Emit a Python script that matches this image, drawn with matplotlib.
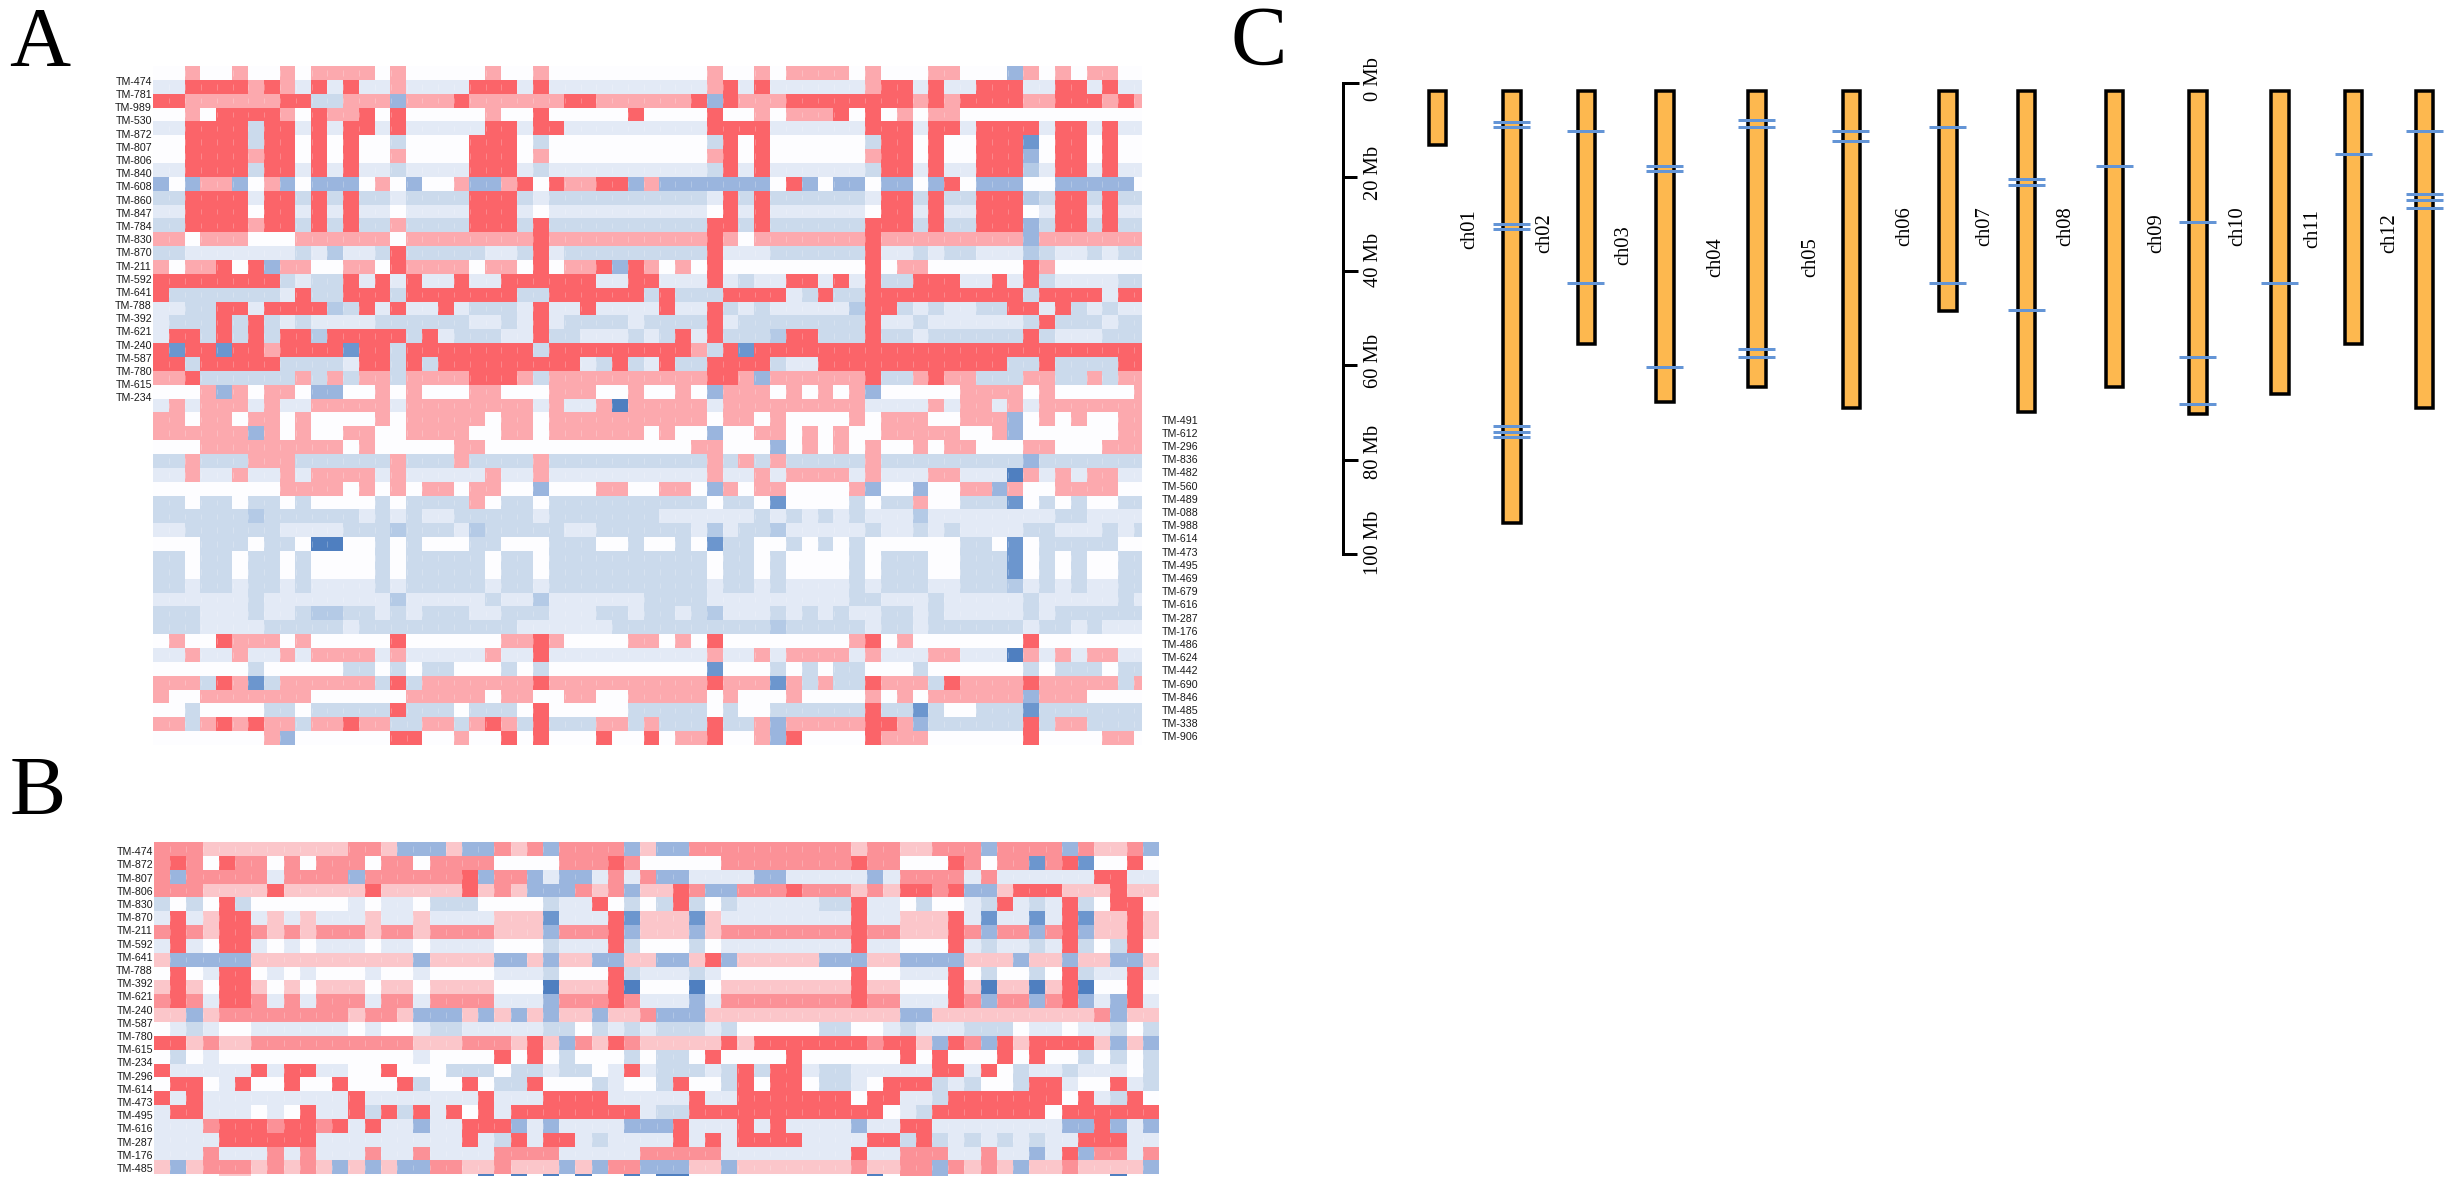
import re
import numpy as np
import matplotlib
matplotlib.use("Agg")
import matplotlib.pyplot as plt
from matplotlib.colors import ListedColormap, BoundaryNorm

W, H = 2452, 1184
plt.rcParams["font.family"] = ["Liberation Sans", "DejaVu Sans"]

# Cell codes: . white; a b B c d e = increasingly dark blue; s p q r = increasingly strong red.
# Each row is run-length coded, e.g. "2a4r" = a a r r r r.
HEAT_A = [
 "2. p 2. p 2. p . 4p . p 5. p 2. p 10. p 2. p . 4p . p 3. 2p 3. c p . p . 2p 2.",
 "2a 4r p r p a r a r 2a p 4a 3r a r 10a p r a r 6a p 2r a r 2a 3r 2a 2r a r 2a",
 "2r 6p 2r 2b 3p c 3p r 6p 2r 6p r c r 3p 8r p r p 4r 2p 3r p r p",
 "2. p . 4r p . r 2p r . r 5. p 2. r 5. r 4. r 2. p . 3p r . r . p . 2p 12.",
 "2a 4r b 2r a r a 2r a r 5a 2r a 2r 9a 4r 6a 3r a 2r a 4r a 2r a r 2a",
 "2. 4r b 2r . r . r 2. b 4. 3r . b 10. b r . r 6. b 2r . r 2. 3r d . 2r . r 2.",
 "2. 4r p 2r . r . r 2. p 4. 3r . p 10. p r . r 6. p 2r . r 2. 3r c . 2r . r 2.",
 "2a 4r b 2r a r a r 2a b 4a 3r a b 10a b r a r 6a b 2r a r 2a 3r B a 2r a r 2a",
 "c . c 2p c . p c . 3c . p . c 2. p 2c p r . r 2p 2r c p 7c . r c . 2c . 2c . c r . 3c 2. 5c .",
 "2b 4r a 2r b r b r 2b a 4b 3r b a 10b a r b r 6b a 2r b r 2b 3r B b 2r b r 2b",
 "2a 4r . 2r a r a r 2a . 4a 3r a . 10a . r a r 6a . 2r a r 2a 3r . a 2r a r 2a",
 "2b 4r p 2r b r b r 2b p 4b 3r b r 10b 2r b r 6b r 2r b r 2b 3r c b 2r b r 2b",
 "2p . 3p 3. 6p . 8p r 10p r p . 7p r 9p c 7p",
 "2b 7a b a B 2a b r 5b 2a b r a 9b r 3a 6b r 2a b a 2b 3a B b 2a b a 2b",
 "p . 2p r . r c 2p 2. 2p . r 4p . 2p . r . 2p r c r p . p . r 9. r . 2p 6. r p 6.",
 "8r b a 2b r a r a r 2a r 2a 6r 2a 2r 3a r a b 2a 2r a r a r 2b 3r 2a r a r b 4a 2b",
 "r 7b a r 2b 3r b 7r 2b 6r b r 3b 4r a b r 2b 10r b 4r a 2r",
 "2a 2b 2r a 4r B b r a r 2a r a 3b a r 2a r 4a r 2a r b a b 5a B 2r b a b 2a 2b 2r a r b a b 2a",
 "a 3b r b r b a b 4a 6b 2a b a r a 4b a 2b 2b r a 8b r 2a b 6a b r 3b a 2b",
 "a 2r b r b r b 2r B 5r b r a 3b 2a r 2b 3a b a b r a r 3b B 2r 3b r 2b a 6b r b 3a 3b",
 "r d 2r d 2r p 4r d 2r b 8r b 9r p b r d 25r",
 "2r b 5r 4b a 2r b r b 9r a b r b a r 2b 4r b 2a 12r 2b r 4b 2r",
 "2p r 6b p b p b 2p b 4p 3r p b 10p 2r p c 6p r 2b p r 2p 3b 2p 2b p b 2p",
 "3. p c p . 2p . 2c 2. p . p 3. 2p 3. 3p 2. p 2. p . c 3p . p . p . p c 5. 4p . p 5. p",
 "a p a 3p a p 2a 5p a 8p a p 2a p e 5p a 9p 4a p a 2p a p a 7p",
 "2p . 2p . 2p . p 4. p . 5p . 2p . 10p . 2p . p 4. p . 3p 2. 3p c . p . p 2. 2p",
 "6p c p . p 2. 2p 2. 4p 2. 2p . 6p . p 2. c 2. 2p . p . p 2. 5p 2. p c 6. 2p",
 "3. 9p . p 5. 2p 13. 2p 3. c . p . p . p 2. p . 2p 3. 2p 3. 3p",
 "2b p 3b 3p 6b p 3b p 4b p 10b p b p b p 5b p 9b c 7b",
 "2a p 2a p 2a p a 4p a p 5a p 2a p 10a p 2a p a 4p a p 3a 2p 3a e p a p a 2p 2a",
 "8. 4p . p . p . 2p . 2p 2. c 3. 2p 2. 2p . c p . 2p 4. p c 2. c 2. 2p c p 2. 4p 2.",
 "2b . 2b . 2b . b 4. b . 4b p . 2b . 10b . 2b . d 4. b . 2b p 2. 3b d . b . b 2. 2b",
 "6b B 6b a b a b 2a 5b a 7b 6a b a b a b a b 3a B 8a 2b 4a",
 "2a 6b 4a 3b B 3b a B 5b 2a 6b a B a 2b B 5a b 2a b a b 4a 2b 3a b a b",
 "3. 3b . 2b . 2e 2. b . b 3. 2b 3. 3b 2. b 2. b . d 2b 2. b . b . b 6. 2b . d . 5b 2.",
 "2b . 2b . 2b . b 4. b . 5b . 2b . 10b . 2b . b 4. b . 3b 2. 3b d . b . b 2. 2b",
 "2b . 2b . 2b . b 4. b . 5b . 2b . 10b . 2b . b 4. b . 3b 2. 3b d . b . b 2. 2b",
 "2b a 2b a 2b a b 4a b a 5b a 2b a 10b a 2b a b 4a b a 3b 2a 3b B a b a b 2a 2b",
 "6a b 8a B 5a b 2a B 6a 4b 9a 2b 3a b 5a b 5a b a",
 "3b 3a b 2a b 2B 2b a b a 3b 2a 3b 3a 2b a 2b a b B 3a b a b a b 2a 2b a b 5a b a 6b",
 "3b 4a 5b a 10b 6a 10b B 5b a 2b a 6b a 2b a b 3a",
 ". p 2. r 3p . p 5. r 6. 2p r p 4. 2p . p . r 8. p r . p 7. r 7.",
 "2a p 2a p 2a p a 4p a p 5a p 2a r 10a p 2a p a 4p a p 3a 2p 3a e p a p a 2p 2a",
 "6. b 5. 2b . b . 2b 3. b . b 10. d 3. b . b . 2b 3. b 6. b . 3b . 2b",
 "3p b r p d b 6p b r b 7p r 10p r 3p d p b p 2b r 3p b r 4p r 5p b p",
 "p 2. 7p 6. 5p . 2p 2. 2p 2. 5p . p 3. p 4. p . p . 6p c 3p 4.",
 "2. b 4. 2b . 5b r 3b . 3b . r 5. 5b . b 2. 6b r 2b d b 2. 3b d 7b",
 "2p b p r p r 2p b 2p r 2p 2b 2p b p r p b r 3b 2p b p 3b r 2b p c 5p 2r p c 6b r b 2p 4b",
 "7. p c 6. 2r 2. p 2. r . r 3. r 2. r . 2p r 2. p c r 4. r 3p 6. r 4. 2p .",
]

HEAT_B = [
 "3q 9s 2q s 3c s 2c q s q c 4q c s 2c 10q s 2q 2s 3q c 4q c q 2s q c",
 "q r q . r 2q . q . 3q . 2q . 4q 4. 3q r q 5. 8q r 2q 3. r q . 2q d q r d 2. r .",
 "q c 5q a 4q c 6q r c 2q c a 2c a q a q 2c 4a 2c 5a c a 4q a q 6a 2r 2a",
 "3q 4s r 5s r 5s r s q s 3c q s q c 2s r q 2c 3q r 3q s q s 2r q r 2c s 3r 3s r 2s",
 "b . b . r b 6. a . 2a . 3b 4. b 2a r . b . b r b . b 5a 2b r 2a . b 2. a b r a b a r b . 2r .",
 "a r a s 2r a s a s 3a s 2a s 4a 3s d 3a r d 3s d s 8a r 2a 3s r a d 2a d a r d 2s r s",
 "q r q s 2r q s q s 3q s 2q s 4q 3s c 3q r c 3s c s 8q r 2q 3s r q c 2q c q r c 2s r s",
 "a r a . 2r a . a . 3a . 2a . 4a 3. b 3a r b 3. b . 8a r 2a 3. r a b 2a b a r b . b r .",
 "s 5c 10s c 4s 2c s c 2s 2c 2s 2c s r c 5s 3c 2s 4c 3s c 2s c 2s 2c s",
 ". r . a 2r . a . a 3. a 2. a 4. 3a b 3. r b 3a b a 8. r 2. 3a r . b 2. b . r b 2a r a",
 "s r s . 2r s . s . 3s . 2s . 4s 3. e 3s r e 3. e . 8s r 2s 3. r s e 2s e s r e 2. r .",
 "q r q a 2r q a q a 3q a 2q a 4q 3a c 3q r q 3a c a 8q r 2q 3a r q c 2q c q r c a c r a",
 "2s c s 8q s 2q s 3c s c s c s c 2s c s s q 3c 12s 2c 10s q c 2s",
 ". a b a 2. 6a . a 2. a 2b 5a 2b . b a b a 3b a b 5. 2b 2. a b 3a 3b . 2a . 2a b . b",
 "2r s q 2s 10q 3s 3q s r s c q s r q 5s r s 7r q 2r s c r q c r s 4r s c s c",
 ". b . a 12. a 4. r . r . b 3. b . 2b . r 4. r 6. r . r 3. r . r 2. b . b . b",
 "r 5a r a 2r 2a 2. r 3. 3b . 2b a 2b . a r a 3b a b r b 2r a 2b 5a 2r a r . b 2a b 3a . b",
 ". 2r . a r 2. r 2. r 3. r b 2. r . 2b r 3. b a 2. b r 2. b r . 2r . 2b a . 3r b a b 2. b 2r a 2. r a b",
 "r a r 9a r 7a r 3a 4r 5a r 2a 7r . 2r 2a b 7r . r a b r .",
 "a 2r 3a . a . r 2a r b r b r a r . r a 8r a 2b 12r . a b 7r . 6r",
 "3a q 3r q 2r q r a r 2a c 2a 3r c a c 4a 3c r 3a r a r 4a c 2a 2r 8a 2c r c a c",
 "4a 6r 9a r a b r a 2r a b 4a r a r a 4r 4a 2r b r b a b a b a b 2a 3r 2a",
 "3a q 3a q a q 3a q 2a q 4a 4q 5a 5q 8a r 2a 3q 2a q 2a c a r c 2q a q",
 "s c s 3q s q s q s c s c s 2c 2q 2s q 3s c s c 2q 3c 2s c 7s q 2s 2q c q s q s c 2s q 4s c",
 "4. 2s 14. e . e . e . e 2. e . 2e 11. e . 2q c 10. e 2.",
]

LABELS_A_LEFT = ["TM-474","TM-781","TM-989","TM-530","TM-872","TM-807","TM-806","TM-840","TM-608",
                 "TM-860","TM-847","TM-784","TM-830","TM-870","TM-211","TM-592","TM-641","TM-788",
                 "TM-392","TM-621","TM-240","TM-587","TM-780","TM-615","TM-234"]
LABELS_A_RIGHT = ["TM-491","TM-612","TM-296","TM-836","TM-482","TM-560","TM-489","TM-088","TM-988",
                  "TM-614","TM-473","TM-495","TM-469","TM-679","TM-616","TM-287","TM-176","TM-486",
                  "TM-624","TM-442","TM-690","TM-846","TM-485","TM-338","TM-906"]
LABELS_B = ["TM-474","TM-872","TM-807","TM-806","TM-830","TM-870","TM-211","TM-592","TM-641",
            "TM-788","TM-392","TM-621","TM-240","TM-587","TM-780","TM-615","TM-234","TM-296",
            "TM-614","TM-473","TM-495","TM-616","TM-287","TM-176","TM-485"]

CHROM_NAMES = ["ch01","ch02","ch03","ch04","ch05","ch06","ch07","ch08","ch09","ch10","ch11","ch12"]
# start and end of each bar in Mb on the ruler
BAR_START = [1.8]*13
BAR_END = [13.2, 93.5, 55.4, 67.7, 64.7, 69.0, 48.4, 70.0, 64.7, 70.4, 66.0, 55.4, 69.0]
# marker loci in Mb, one list per bar
LOCI = [[], [8.3, 9.3, 30.1, 31.0, 72.8, 74.1, 75.3], [10.2, 42.6], [17.6, 18.7, 60.4],
        [8.0, 9.3, 56.6, 58.3], [10.2, 12.3], [9.3, 42.6], [20.4, 21.7, 48.3], [17.7],
        [29.5, 58.3, 68.2], [42.6], [15.2], [10.2, 23.7, 25.0, 26.5]]
RULER_TICKS = [0, 20, 40, 60, 80, 100]

CODES = ".abBcdespqr"
COLORS = ["#FDFDFF","#E3EAF6","#CBDAEC","#B4CAE6","#9AB5DE","#6C96CE","#4F7FC0",
          "#FBC6CA","#FCA9AE","#FB9197","#FB6469"]
cmap = ListedColormap(COLORS)
norm = BoundaryNorm(np.arange(len(COLORS) + 1) - 0.5, len(COLORS))


def decode(rows, ncol):
    out = []
    for row in rows:
        cells = []
        for n, ch in re.findall(r"(\d*)([.a-zA-Z])", row):
            cells += [CODES.index(ch)] * int(n or 1)
        cells = (cells + [0] * ncol)[:ncol]
        out.append(cells)
    return np.array(out)


fig = plt.figure(figsize=(W / 100, H / 100), dpi=100, facecolor="white")


def px_axes(l, t, r, b):
    ax = fig.add_axes([l / W, 1 - b / H, (r - l) / W, (b - t) / H])
    ax.axis("off")
    return ax


def ftext(x, y, s, **kw):
    fig.text(x / W, 1 - y / H, s, **kw)


def cell_dashes(ax, nrow, ncol):
    # faint light dashes on the column boundaries of each row
    for i in range(nrow):
        ax.vlines(np.arange(1, ncol), i + 0.3, i + 0.7, color="white", alpha=0.28, lw=0.6)


# Panel A
axA = px_axes(153.5, 66, 1142, 745)
matA = decode(HEAT_A, 63)
axA.imshow(matA, cmap=cmap, norm=norm, aspect="auto", interpolation="nearest",
           extent=(0, 63, matA.shape[0], 0))
cell_dashes(axA, matA.shape[0], 63)
axA.set_xlim(0, 62.5)
axA.set_ylim(matA.shape[0], 0)

# Panel B
axB = px_axes(154, 842, 1159, 1176)
matB = decode(HEAT_B, 62)
axB.imshow(matB, cmap=cmap, norm=norm, aspect="auto", interpolation="nearest",
           extent=(0, 62, matB.shape[0], 0))
cell_dashes(axB, 24, 62)
axB.set_xlim(0, 62)
axB.set_ylim(24.12, 0)

lab = dict(fontsize=7.7, color="#1a1a1a", va="center", family="Liberation Sans")
for i, s in enumerate(LABELS_A_LEFT):
    ftext(152, 81.7 + 13.2 * i, s, ha="right", **lab)
for i, s in enumerate(LABELS_A_RIGHT):
    ftext(1161.5, 420.7 + 13.2 * i, s, ha="left", **lab)
for i, s in enumerate(LABELS_B):
    ftext(153, 852.3 + 13.2 * i, s, ha="right", **lab)

serif = dict(family="Liberation Serif", color="black")
ftext(9.5, 65.7, "A", fontsize=60.8, ha="left", va="baseline", **serif)
ftext(9.5, 815.5, "B", fontsize=60.8, ha="left", va="baseline", **serif)
ftext(1230, 65, "C", fontsize=60.8, ha="left", va="baseline", **serif)

# Panel C: x in figure pixels, y in Mb
Y0, PX_PER_MB = 82.7, 4.71
axC = fig.add_axes([0, 0, 1, 1])
axC.axis("off")
axC.patch.set_alpha(0)
axC.set_xlim(0, W)
axC.set_ylim((H - Y0) / PX_PER_MB, -Y0 / PX_PER_MB)

PT = 0.72  # points per pixel at 100 dpi
BAR_X = [1437.5, 1512.2, 1586.3, 1665.2, 1757.1, 1851.4, 1947.9, 2026.5, 2114.5, 2197.9, 2280, 2353.6, 2424.5]
BAR_W = 17.5
BLUE = "#6495D6"
for x, s, e, loci in zip(BAR_X, BAR_START, BAR_END, LOCI):
    axC.bar(x, e - s, bottom=s, width=BAR_W, color="#FDB84F", edgecolor="black",
            linewidth=3.5 * PT, zorder=2)
    for m in loci:
        axC.plot([x - 19, x + 18], [m, m], color=BLUE, lw=3.0 * PT, zorder=3,
                 solid_capstyle="butt")

LABEL_X = [1470, 1545, 1624, 1716, 1811, 1905, 1985, 2066, 2157, 2238, 2313, 2390]
LABEL_Y = [229, 233, 245, 257, 257, 226, 226, 226, 233, 226, 229, 233]
for x, y, s in zip(LABEL_X, LABEL_Y, CHROM_NAMES):
    axC.text(x, (y - Y0) / PX_PER_MB, s, rotation=90, ha="center", va="center",
             fontsize=14.8, **serif)

RX = 1343
axC.plot([RX, RX], [0, 100], color="black", lw=3 * PT, zorder=2, solid_capstyle="projecting")
TICK_LEN = [15.5, 14, 14.5, 13.5, 14.5, 14]
for t, tl in zip(RULER_TICKS, TICK_LEN):
    axC.plot([RX, RX + tl], [t, t], color="black", lw=3 * PT, zorder=2, solid_capstyle="butt")
RULER_OFF = [-3.7, -3.7, -11, -4, -8, -11]
for t, off in zip(RULER_TICKS, RULER_OFF):
    axC.text(1373, t + off / PX_PER_MB, f"{t} Mb", rotation=90, ha="center", va="center",
             fontsize=14.8, **serif)

fig.savefig("out.png", dpi=100, facecolor="white")
